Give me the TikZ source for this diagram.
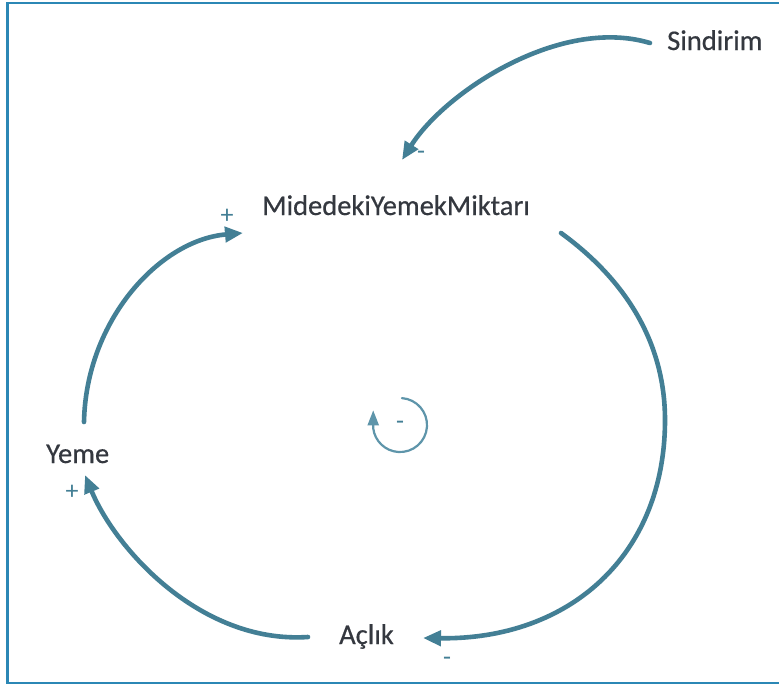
\documentclass[tikz,border=0pt]{standalone}
\usepackage{fontspec}
\setmainfont{Carlito}
\newfontfamily\labelfont{Carlito}[FakeBold=0.5]
\usetikzlibrary{arrows.meta}
\definecolor{loopteal}{HTML}{437F95}
\definecolor{looplight}{HTML}{5E95AA}
\definecolor{framebl}{HTML}{2B87B5}
\definecolor{labelink}{HTML}{34383F}
\begin{document}
\begin{tikzpicture}[x=1pt,y=-1pt,
  var/.style={inner sep=0pt, anchor=base west, text=labelink,
    font=\labelfont\fontsize{28.5}{34}\selectfont},
  link/.style={draw=loopteal, line width=4.6pt, line cap=round,
    -{Triangle[length=18pt,width=15pt]}},
  smalllink/.style={draw=looplight, line width=2.2pt, line cap=round,
    -{Triangle[length=15pt,width=11pt]}},
  sign/.style={inner sep=0pt, text=loopteal, font=\fontsize{26}{28}\selectfont},
]
\useasboundingbox (0,0) rectangle (779,689);
\fill[white] (0,0) rectangle (779,689);
% open frame around the figure
\draw[framebl, line width=2.5pt] (779,3) -- (7.5,3) -- (7.5,683) -- (779,683);

% variables
\node[var] (sind)  at (667,50)  {Sindirim};
\node[var] (mid)   at (262,215) {MidedekiYemekMiktarı};
\node[var] (yeme)  at (46,463)  {Yeme};
\node[var] (aclik) at (339,644) {Açlık};

% link end points
\coordinate (sA) at ([shift={(-17,-7)}]sind.base west);
\coordinate (tA) at ([shift={(140,-55)}]mid.base west);
\coordinate (sB) at ([shift={(38,-41)}]yeme.base west);
\coordinate (tB) at ([shift={(-19,18)}]mid.base west);
\coordinate (sC) at ([shift={(299,18)}]mid.base west);
\coordinate (tC) at ([shift={(84,-6)}]aclik.base west);
\coordinate (sD) at ([shift={(-31,-7)}]aclik.base west);
\coordinate (tD) at ([shift={(39,12)}]yeme.base west);

% causal links
\draw[link] (sA) .. controls (560,16) and (445,92) .. (tA);
\draw[link] (sB) .. controls (86,320) and (160,240) .. (tB);
\draw[link] (sC) .. controls (612,270) and (665,330) .. (665,420)
                 .. controls (665,555) and (570,640) .. (tC);
\draw[link] (sD) .. controls (200,644) and (115,548) .. (tD);

% polarity signs
\node[sign] (pA) at (421,155) {-};
\node[sign] (pB) at (227,216) {+};
\node[sign] (pC) at (447,661) {-};
\node[sign] (pD) at (72,492)  {+};

% balancing loop marker
\node[sign] (loopsign) at (400,425) {-};
\draw[smalllink] ([shift={(1.9,-26.9)}]loopsign.center)
  arc[start angle=-86, end angle=173, radius=27] -- ++(0,-18);
\end{tikzpicture}
\end{document}
